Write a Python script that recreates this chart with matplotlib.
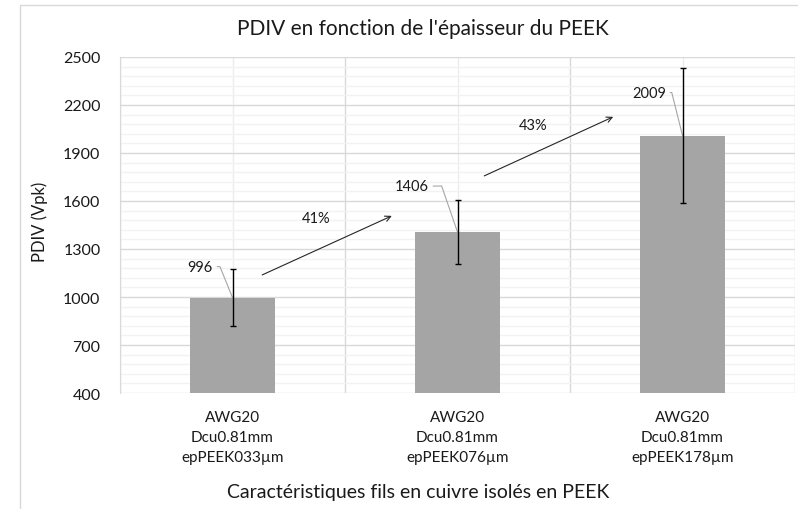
import matplotlib
matplotlib.use("Agg")
import matplotlib.pyplot as plt
from matplotlib.patches import Rectangle

plt.rcParams['font.family'] = ['Lato', 'DejaVu Sans']

# values
categories = ["AWG20\nDcu0.81mm\nepPEEK033µm",
              "AWG20\nDcu0.81mm\nepPEEK076µm",
              "AWG20\nDcu0.81mm\nepPEEK178µm"]
pdiv = [996, 1406, 2009]
pdiv_err = [177, 198, 420]
gains = ["41%", "43%"]

W, H = 798, 510
fig = plt.figure(figsize=(W / 100, H / 100), dpi=100)
ax = fig.add_axes([120 / W, 1 - 394 / H, 675 / W, 336 / H])

x = list(range(len(pdiv)))
ax.bar(x, pdiv, width=0.38, color='#a5a5a5', zorder=3)
ax.errorbar(x, pdiv, yerr=pdiv_err, fmt='none', ecolor='black',
            elinewidth=1.0, capsize=2.5, capthick=1.0, zorder=4)

ax.set_xlim(-0.5, 2.5)
ax.set_ylim(400, 2500)
ax.set_yticks(range(400, 2501, 300))
ax.set_yticks(range(400, 2501, 60), minor=True)
ax.set_xticks(x)
ax.set_xticklabels(categories, fontsize=11, linespacing=1.55)
ax.set_xticks([-0.5, 0.5, 1.5, 2.5], minor=True)
ax.tick_params(axis='both', which='both', length=0)
ax.tick_params(axis='y', labelsize=11.5, pad=14, colors='#1a1a1a')
ax.tick_params(axis='x', pad=12, colors='#1a1a1a')

# gridlines: major rows / category edges darker, minor lighter
ax.grid(axis='y', which='major', color='#d9d9d9', lw=1.0, zorder=0)
ax.grid(axis='y', which='minor', color='#f2f2f2', lw=1.0, zorder=0)
ax.grid(axis='x', which='minor', color='#d9d9d9', lw=1.0, zorder=0)
ax.grid(axis='x', which='major', color='#ececec', lw=1.0, zorder=0)
for s in ax.spines.values():
    s.set_visible(False)
ax.spines['left'].set_visible(True)
ax.spines['left'].set_color('#d9d9d9')

# value labels with leader lines
label_off = [(-19.5, 31), (-28.5, 46), (-16.5, 43)]
leader_ang = [112, 109, 104]
for i, v in enumerate(pdiv):
    ax.annotate(str(v), xy=(i, v), xytext=label_off[i], textcoords='offset pixels',
                ha='right', va='center', fontsize=10.5, color='#1a1a1a',
                arrowprops=dict(arrowstyle='-', color='#a6a6a6', lw=0.8,
                                shrinkA=1, shrinkB=0,
                                connectionstyle='angle,angleA=0,angleB=%d,rad=0' % leader_ang[i]))

# growth arrows between bars
arrows = [((0.132, 1138), (0.708, 1507), (0.37, 1491)),
          ((1.119, 1757), (1.692, 2126), (1.334, 2074))]
for (start, end, txt), g in zip(arrows, gains):
    ax.annotate('', xy=end, xytext=start,
                arrowprops=dict(arrowstyle='->', color='#262626', lw=0.8,
                                shrinkA=0, shrinkB=0))
    ax.text(txt[0], txt[1], g, ha='center', va='center', fontsize=10.5, color='#1a1a1a')

fig.text(423 / W, 1 - 29 / H, "PDIV en fonction de l'épaisseur du PEEK",
         ha='center', va='center', fontsize=15, color='#1a1a1a')
fig.text(40 / W, 1 - 222 / H, "PDIV (Vpk)", rotation=90,
         ha='center', va='center', fontsize=12, color='#1a1a1a')
fig.text(418 / W, 1 - 493 / H, "Caractéristiques fils en cuivre isolés en PEEK",
         ha='center', va='center', fontsize=14, color='#1a1a1a')

# chart frame
fig.patches.append(Rectangle((20 / W, -0.1), 1.0, 1 - 6 / H + 0.1,
                             transform=fig.transFigure, fill=False,
                             edgecolor='#d9d9d9', lw=1.0))

fig.savefig('out.png', dpi=100)
